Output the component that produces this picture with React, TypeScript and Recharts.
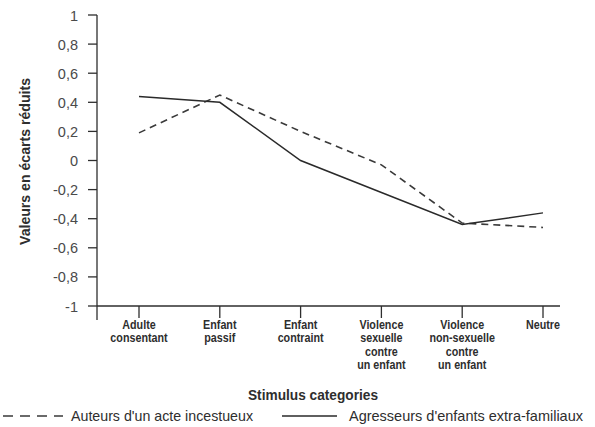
import { Line, LineChart, XAxis, YAxis } from "recharts";

const categories = [
  "Adulte\nconsentant",
  "Enfant\npassif",
  "Enfant\ncontraint",
  "Violence\nsexuelle\ncontre\nun enfant",
  "Violence\nnon-sexuelle\ncontre\nun enfant",
  "Neutre",
];

const incestueux = [0.19, 0.45, 0.2, -0.03, -0.43, -0.46];
const extraFamiliaux = [0.44, 0.4, 0, -0.22, -0.44, -0.36];

const yTicks = [-1, -0.8, -0.6, -0.4, -0.2, 0, 0.2, 0.4, 0.6, 0.8, 1];

const seriesNames = {
  incestueux: "Auteurs d'un acte incestueux",
  extraFamiliaux: "Agresseurs d'enfants extra-familiaux",
};

const xTitle = "Stimulus categories";
const yTitle = "Valeurs en écarts réduits";

const data = categories.map((name, i) => ({
  name,
  incestueux: incestueux[i],
  extraFamiliaux: extraFamiliaux[i],
}));

const FONT = "'Liberation Sans', Arial, sans-serif";
const INK = "#2e2e2e";
const X_PAD_LEFT = 42;

const formatTick = (v: number) => String(Math.round(v * 10) / 10).replace(".", ",");

// narrow-ish look: squeeze text horizontally around its anchor
const squeeze = (x: number, k: number) => `translate(${x} 0) scale(${k} 1) translate(${-x} 0)`;

const CategoryTick = ({ x, y, payload, index }: any) => {
  const lines = String(payload.value).split("\n");
  return (
    <g>
      {index === 0 && (
        <line x1={x - X_PAD_LEFT} y1={y - 14} x2={x - X_PAD_LEFT} y2={y} stroke={INK} strokeWidth={1.3} />
      )}
      <text
        x={x}
        y={y}
        transform={squeeze(x, 0.86)}
        textAnchor="middle"
        fontFamily={FONT}
        fontWeight={700}
        fontSize={12.5}
        fill={INK}
      >
        {lines.map((l, i) => (
          <tspan key={i} x={x} dy={i === 0 ? 9 : 13.5}>
            {l}
          </tspan>
        ))}
      </text>
    </g>
  );
};

const ValueTick = ({ x, y, payload }: any) => (
  <text
    x={x}
    y={y}
    dy={5.5}
    textAnchor="end"
    fontFamily={FONT}
    fontSize={14.5}
    fill="#4a4a4a"
  >
    {formatTick(payload.value)}
  </text>
);

export default function App() {
  return (
    <div style={{ position: "absolute", left: 0, top: 0, width: 595, height: 427, background: "#fff" }}>
      <LineChart
        width={595}
        height={427}
        data={data}
        margin={{ top: 15, right: 35, bottom: 0, left: 0 }}
      >
        <XAxis
          dataKey="name"
          scale="point"
          padding={{ left: X_PAD_LEFT, right: 17 }}
          height={121}
          tickSize={12}
          tickMargin={2}
          interval={0}
          axisLine={{ stroke: INK, strokeWidth: 1.3 }}
          tickLine={{ stroke: INK, strokeWidth: 1.3 }}
          tick={<CategoryTick />}
        />
        <YAxis
          width={97}
          domain={[-1, 1]}
          ticks={yTicks}
          tickSize={9}
          tickMargin={10}
          axisLine={{ stroke: INK, strokeWidth: 1.3 }}
          tickLine={{ stroke: INK, strokeWidth: 1.3 }}
          tick={<ValueTick />}
        />
        <Line
          dataKey="incestueux"
          name={seriesNames.incestueux}
          stroke="#3a3a3a"
          strokeWidth={1.6}
          strokeDasharray="7 5"
          dot={false}
          isAnimationActive={false}
        />
        <Line
          dataKey="extraFamiliaux"
          name={seriesNames.extraFamiliaux}
          stroke="#2a2a2a"
          strokeWidth={1.5}
          dot={false}
          isAnimationActive={false}
        />
      </LineChart>
      <svg
        width={595}
        height={427}
        style={{ position: "absolute", left: 0, top: 0, pointerEvents: "none" }}
      >
        <text
          x={30}
          y={161.5}
          transform="rotate(-90 30 161.5)"
          textAnchor="middle"
          textLength={167}
          lengthAdjust="spacingAndGlyphs"
          fontFamily={FONT}
          fontWeight={700}
          fontSize={15}
          fill={INK}
        >
          {yTitle}
        </text>
        <text
          x={313}
          y={400}
          textAnchor="middle"
          textLength={130}
          lengthAdjust="spacingAndGlyphs"
          fontFamily={FONT}
          fontWeight={700}
          fontSize={15}
          fill={INK}
        >
          {xTitle}
        </text>
        <line x1={3} y1={416} x2={63} y2={416} stroke="#3a3a3a" strokeWidth={1.5} strokeDasharray="10 7" />
        <text
          x={71}
          y={420.5}
          textLength={182}
          lengthAdjust="spacingAndGlyphs"
          fontFamily={FONT}
          fontSize={14.5}
          fill={INK}
        >
          {seriesNames.incestueux}
        </text>
        <line x1={282} y1={416} x2={337} y2={416} stroke="#2a2a2a" strokeWidth={1.4} />
        <text
          x={349}
          y={420.5}
          textLength={234}
          lengthAdjust="spacingAndGlyphs"
          fontFamily={FONT}
          fontSize={14.5}
          fill={INK}
        >
          {seriesNames.extraFamiliaux}
        </text>
      </svg>
    </div>
  );
}
